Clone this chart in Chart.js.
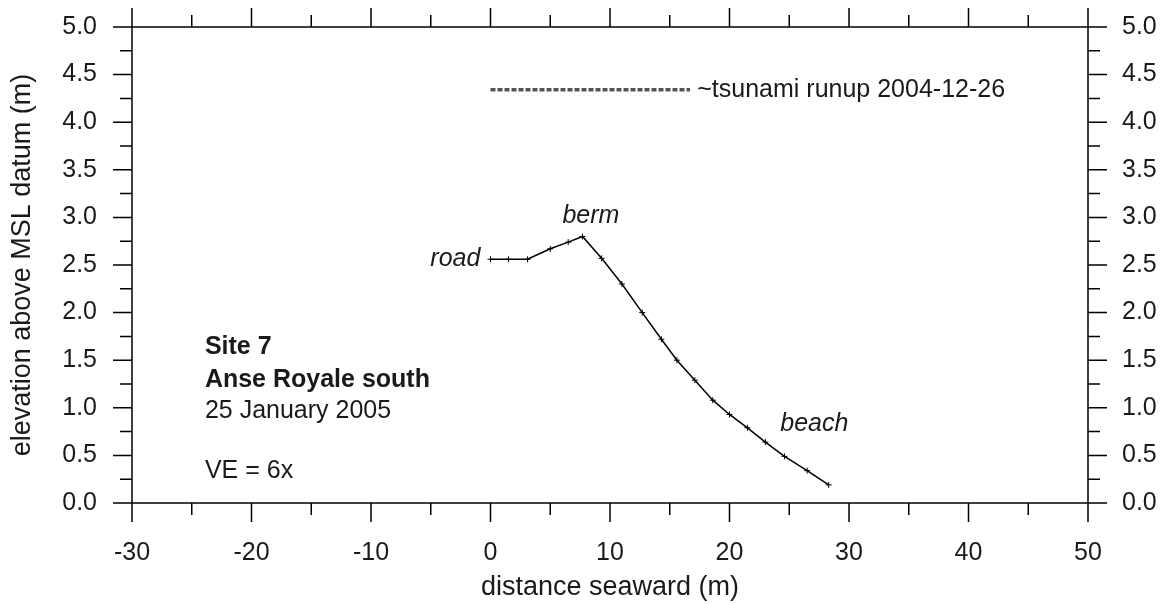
<!DOCTYPE html>
<html>
<head>
<meta charset="utf-8">
<script src="https://cdn.jsdelivr.net/npm/chart.js@4.4.1/dist/chart.umd.min.js"></script>
<style>
  html, body { margin: 0; padding: 0; background: #fff; }
  #wrap { width: 1166px; height: 604px; position: relative; }
</style>
</head>
<body>
<div id="wrap"><canvas id="profileChart"></canvas></div>
<script>
// Surveyed beach profile, Site 7 (distance seaward m / elevation m)
const profileX = [0, 1.5, 3.1, 5.0, 6.5, 7.7, 9.3, 11.0, 12.7, 14.3, 15.6, 17.1, 18.6, 20.0, 21.5, 23.0, 24.6, 26.5, 28.3];
const profileY = [2.56, 2.56, 2.56, 2.67, 2.74, 2.80, 2.57, 2.30, 2.00, 1.72, 1.50, 1.29, 1.08, 0.93, 0.79, 0.64, 0.49, 0.34, 0.19];

// Approximate tsunami runup level
const runupX = [0, 16.7];
const runupY = [4.34, 4.34];

// Axis ranges / tick steps
const xRange = [-30, 50];
const yRange = [0, 5];
const xMajor = 10, xMinor = 5;
const yMajor = 0.5, yMinor = 0.25;

const FONT = '"Liberation Sans", Arial, sans-serif';
const INK = '#1a1a1a';

// Text placed in data coordinates
const notes = [
    { text: 'road', x: -0.85, y: 2.56, italic: true, align: 'right' },
    { text: 'berm', x: 8.4, y: 3.01, italic: true, align: 'center' },
    { text: 'beach', x: 24.25, y: 0.83, italic: true, align: 'left' },
    { text: '~tsunami runup 2004-12-26', x: 17.3, y: 4.34, align: 'left' },
    { text: 'Site 7', x: -23.9, y: 1.64, bold: true, align: 'left' },
    { text: 'Anse Royale south', x: -23.9, y: 1.29, bold: true, align: 'left' },
    { text: '25 January 2005', x: -23.9, y: 0.96, align: 'left' },
    { text: 'VE = 6x', x: -23.9, y: 0.33, align: 'left' }
];

const frameAndTicks = {
    id: 'frameAndTicks',
    afterDraw(chart) {
        const { ctx, chartArea: a, scales } = chart;
        const sx = scales.x, sy = scales.y;
        ctx.save();
        ctx.strokeStyle = '#000';
        ctx.lineWidth = 1.5;
        ctx.strokeRect(a.left, a.top, a.right - a.left, a.bottom - a.top);

        ctx.beginPath();
        for (let v = xRange[0]; v <= xRange[1] + 1e-9; v += xMinor) {
            const len = Math.abs(v % xMajor) < 1e-9 ? 19 : 12;
            const px = sx.getPixelForValue(v);
            ctx.moveTo(px, a.bottom); ctx.lineTo(px, a.bottom + len);
            ctx.moveTo(px, a.top); ctx.lineTo(px, a.top - len);
        }
        for (let i = 0; i <= Math.round((yRange[1] - yRange[0]) / yMinor); i++) {
            const v = yRange[0] + i * yMinor;
            const len = i % Math.round(yMajor / yMinor) === 0 ? 19 : 12;
            const py = sy.getPixelForValue(v);
            ctx.moveTo(a.left, py); ctx.lineTo(a.left - len, py);
            ctx.moveTo(a.right, py); ctx.lineTo(a.right + len, py);
        }
        ctx.stroke();

        // annotations
        ctx.fillStyle = INK;
        ctx.textBaseline = 'middle';
        notes.forEach(n => {
            ctx.font = (n.italic ? 'italic ' : '') + (n.bold ? 'bold ' : '') + '25px ' + FONT;
            ctx.textAlign = n.align;
            ctx.fillText(n.text, sx.getPixelForValue(n.x), sy.getPixelForValue(n.y));
        });
        ctx.restore();
    }
};

const tickFont = { family: FONT, size: 25 };
const titleFont = { family: FONT, size: 27 };

// fixed box sizes so the plot area lands where the original has it
function fixBox(size) {
    return s => {
        if (s.isHorizontal()) s.height = size; else s.width = size;
        s.paddingTop = 0; s.paddingBottom = 0; s.paddingLeft = 0; s.paddingRight = 0;
    };
}

new Chart(document.getElementById('profileChart'), {
    type: 'line',
    data: {
        datasets: [
            {
                label: 'profile',
                data: profileX.map((x, i) => ({ x, y: profileY[i] })),
                borderColor: '#000',
                borderWidth: 1.5,
                pointStyle: 'cross',
                pointRadius: 3,
                pointBorderWidth: 1,
                pointBorderColor: '#000',
                tension: 0
            },
            {
                label: 'runup',
                data: runupX.map((x, i) => ({ x, y: runupY[i] })),
                borderColor: '#555',
                borderWidth: 3.5,
                borderDash: [5, 2],
                pointRadius: 0
            }
        ]
    },
    options: {
        responsive: true,
        maintainAspectRatio: false,
        animation: false,
        layout: { padding: 0 },
        plugins: { legend: { display: false }, tooltip: { enabled: false } },
        scales: {
            x: {
                type: 'linear', position: 'bottom',
                min: xRange[0], max: xRange[1],
                grid: { display: false, drawTicks: false },
                border: { display: false },
                ticks: { stepSize: xMajor, autoSkip: false, maxRotation: 0, padding: 35, color: INK, font: tickFont },
                title: { display: true, text: 'distance seaward (m)', color: INK, font: titleFont, padding: { top: 0, bottom: 0 } },
                afterFit: fixBox(101)
            },
            x2: {
                type: 'linear', position: 'top',
                min: xRange[0], max: xRange[1],
                grid: { display: false, drawTicks: false },
                border: { display: false },
                ticks: { display: false },
                afterFit: fixBox(27)
            },
            y: {
                position: 'left',
                min: yRange[0], max: yRange[1],
                grid: { display: false, drawTicks: false },
                border: { display: false },
                ticks: { stepSize: yMajor, autoSkip: false, padding: 35, color: INK, font: tickFont, callback: v => v.toFixed(1) },
                title: { display: true, text: 'elevation above MSL datum (m)', color: INK, font: titleFont, padding: { top: 6, bottom: 0 } },
                afterFit: fixBox(132)
            },
            y2: {
                position: 'right',
                min: yRange[0], max: yRange[1],
                grid: { display: false, drawTicks: false },
                border: { display: false },
                ticks: { stepSize: yMajor, autoSkip: false, padding: 34, color: INK, font: tickFont, callback: v => v.toFixed(1) },
                afterFit: fixBox(78)
            }
        }
    },
    plugins: [frameAndTicks]
});
</script>
</body>
</html>
